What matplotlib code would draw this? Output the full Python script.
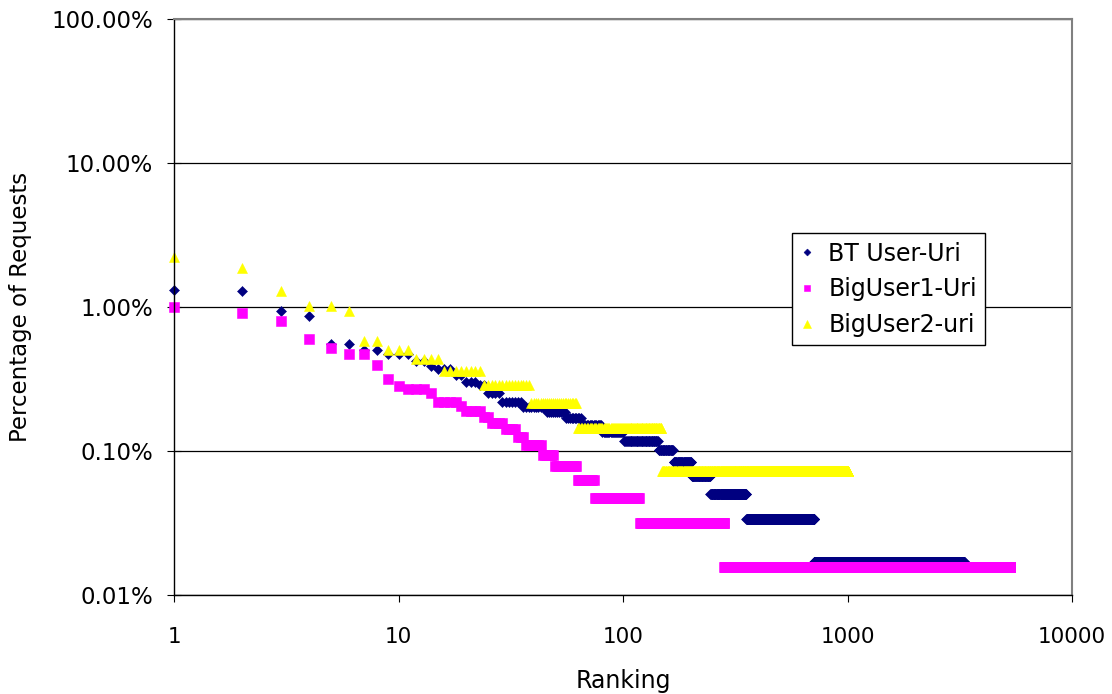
import matplotlib
matplotlib.use("Agg")
import matplotlib.pyplot as plt
import numpy as np
from matplotlib.ticker import FuncFormatter, LogLocator, NullLocator

# request counts per uri, stored as (count, number of uris with that count)
bt_counts = [78, 77, 56, 51, 33, 30, 28, 25, 23, 22, 20, 18, 17, 15, 13, 12, 11, 10, 9, 8, 7, 6, 5, 4, 3, 2, 1]
bt_repeat = [1, 1, 1, 1, 2, 2, 3, 2, 1, 3, 2, 3, 2, 4, 7, 10, 10, 10, 15, 20, 43, 24, 34, 43, 109, 356, 2591]

big1_counts = [63, 58, 51, 38, 33, 30, 25, 20, 18, 17, 16, 14, 13, 12, 11, 10, 9, 8, 7, 6, 5, 4, 3, 2, 1]
big1_repeat = [1, 1, 1, 1, 1, 2, 1, 1, 1, 3, 1, 4, 1, 4, 2, 4, 4, 3, 7, 6, 13, 12, 44, 164, 5018]

big2_counts = [31, 26, 18, 14, 13, 8, 7, 6, 5, 4, 3, 2, 1]
big2_repeat = [1, 1, 1, 2, 1, 2, 3, 4, 8, 15, 24, 86, 862]

series_names = ["BT User-Uri", "BigUser1-Uri", "BigUser2-uri"]
series_colors = ["#000080", "#FF00FF", "#FFFF00"]
series_markers = ["D", "s", "^"]
series_sizes = [5.0, 6.5, 7.8]


def to_percent(counts, repeat):
    per_uri = np.repeat(np.asarray(counts, dtype=float), repeat)
    ranks = np.arange(1, len(per_uri) + 1)
    return ranks, per_uri / per_uri.sum() * 100.0


fig = plt.figure(figsize=(11.12, 6.94), dpi=100)
ax = fig.add_axes([174 / 1112, 1 - 595 / 694, 898 / 1112, 576 / 694])

data = [(bt_counts, bt_repeat), (big1_counts, big1_repeat), (big2_counts, big2_repeat)]
for (counts, repeat), name, col, mk, ms in zip(data, series_names, series_colors,
                                              series_markers, series_sizes):
    x, y = to_percent(counts, repeat)
    ax.plot(x, y, linestyle="none", marker=mk, markersize=ms, color=col,
            markeredgecolor=col, markeredgewidth=0.4, label=name, clip_on=False)

ax.set_xscale("log")
ax.set_yscale("log")
ax.set_xlim(1, 10000)
ax.set_ylim(0.01, 100)

ax.xaxis.set_major_locator(LogLocator(base=10, numticks=10))
ax.yaxis.set_major_locator(LogLocator(base=10, numticks=10))
ax.xaxis.set_minor_locator(NullLocator())
ax.yaxis.set_minor_locator(NullLocator())
ax.xaxis.set_major_formatter(FuncFormatter(lambda v, p: f"{v:g}"))
ax.yaxis.set_major_formatter(FuncFormatter(lambda v, p: f"{v:.2f}%"))

ax.grid(True, axis="y", color="black", linewidth=0.9)
ax.set_axisbelow(True)
for side in ["top", "right"]:
    ax.spines[side].set_color("#808080")
    ax.spines[side].set_linewidth(1.5)
for side in ["left", "bottom"]:
    ax.spines[side].set_color("black")
    ax.spines[side].set_linewidth(1.0)

ax.tick_params(axis="x", direction="out", length=5, width=0.8, pad=18, labelsize=15.5)
ax.tick_params(axis="y", direction="inout", length=10, width=0.8, pad=10, labelsize=16.5)

ax.set_xlabel("Ranking", fontsize=17, labelpad=16)
ax.set_ylabel("Percentage of Requests", fontsize=16.5)
ax.yaxis.set_label_coords(-0.158, 0.5)

leg = ax.legend(loc="upper left", bbox_to_anchor=(0.688, 0.628), borderaxespad=0,
                fontsize=17, markerscale=0.7, handlelength=0.6, handletextpad=0.6,
                labelspacing=0.5, borderpad=0.35, fancybox=False, framealpha=1,
                edgecolor="black")
leg.get_frame().set_linewidth(1.0)

fig.savefig("out.png", dpi=100)
